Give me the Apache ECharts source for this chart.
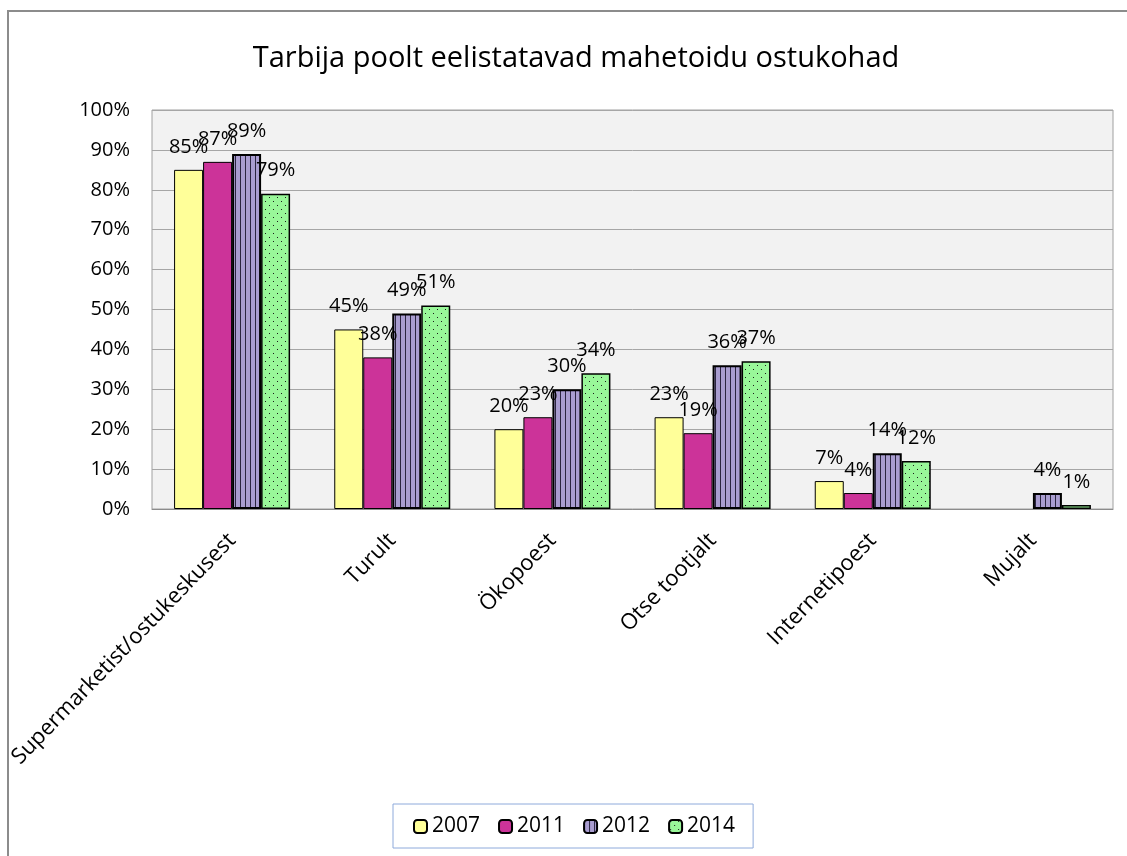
<!DOCTYPE html>
<html>
<head>
<meta charset="utf-8">
<script src="https://cdn.jsdelivr.net/npm/echarts@6/dist/echarts.min.js"></script>
<style>
  html, body { margin: 0; padding: 0; background: #fff; }
  #chartsDom { width: 1127px; height: 856px; }
</style>
</head>
<body>
<div id="chartsDom"></div>
<script>
// andmed
const categories = ["Supermarketist/ostukeskusest", "Turult", "Ökopoest", "Otse tootjalt", "Internetipoest", "Mujalt"];
const years = ["2007", "2011", "2012", "2014"];
const v2007 = [85, 45, 20, 23, 7, null];
const v2011 = [87, 38, 23, 19, 4, null];
const v2012 = [89, 49, 30, 36, 14, 4];
const v2014 = [79, 51, 34, 37, 12, 1];

const FONT = "'Open Sans', sans-serif";

// mustrid (triibud ja täpid)
function stripes() {
  const c = document.createElement("canvas");
  c.width = 5; c.height = 5;
  const ctx = c.getContext("2d");
  ctx.fillStyle = "#a99dd0";
  ctx.fillRect(0, 0, 5, 5);
  ctx.fillStyle = "#2b2540";
  ctx.fillRect(0, 0, 1, 5);
  return c;
}
function dots() {
  const c = document.createElement("canvas");
  c.width = 8; c.height = 8;
  const ctx = c.getContext("2d");
  ctx.fillStyle = "#99f799";
  ctx.fillRect(0, 0, 8, 8);
  ctx.fillStyle = "#1a1a1a";
  ctx.fillRect(1, 1, 1, 1);
  ctx.fillRect(5, 5, 1, 1);
  return c;
}

const fills = [
  "#ffff99",
  "#cc3399",
  { image: stripes(), repeat: "repeat" },
  { image: dots(), repeat: "repeat" }
];
const borders = [1, 1, 2, 1.5];
const values = [v2007, v2011, v2012, v2014];

const myChart = echarts.init(document.getElementById("chartsDom"));

let option = {
  animation: false,
  textStyle: { fontFamily: FONT },
  title: {
    text: "Tarbija poolt eelistatavad mahetoidu ostukohad",
    left: 571,
    textAlign: "center",
    top: 39,
    textStyle: { fontFamily: FONT, fontSize: 29, fontWeight: "normal", color: "#000" }
  },
  graphic: [
    {
      type: "rect",
      shape: { x: 8, y: 11, width: 1200, height: 1000 },
      style: { fill: "none", stroke: "#8c8c8c", lineWidth: 2 },
      silent: true
    }
  ],
  legend: {
    data: years,
    bottom: 8,
    left: 393,
    padding: [12, 18, 11, 20],
    itemGap: 18,
    itemWidth: 13,
    itemHeight: 13,
    borderColor: "#8eaadb",
    borderWidth: 1,
    borderRadius: 0,
    textStyle: { fontFamily: FONT, fontSize: 21, color: "#000" }
  },
  grid: {
    left: 152,
    right: 14,
    top: 110,
    bottom: 347,
    show: true,
    backgroundColor: "#f2f2f2",
    borderColor: "#a0a0a0",
    borderWidth: 1
  },
  xAxis: {
    type: "category",
    data: categories,
    axisLine: { lineStyle: { color: "#8c8c8c" } },
    axisTick: { show: false },
    axisLabel: {
      rotate: 46,
      interval: 0,
      margin: 28,
      fontFamily: FONT,
      fontSize: 22,
      color: "#000"
    }
  },
  yAxis: {
    type: "value",
    min: 0,
    max: 100,
    interval: 10,
    axisLine: { show: false },
    axisTick: { show: false },
    axisLabel: {
      formatter: "{value}%",
      margin: 22,
      fontFamily: FONT,
      fontSize: 20,
      color: "#000"
    },
    splitLine: { lineStyle: { color: "#a6a6a6", width: 1 } }
  },
  series: years.map((y, i) => ({
    name: y,
    type: "bar",
    data: values[i],
    barWidth: 29,
    barGap: "0%",
    itemStyle: { color: fills[i], borderColor: "#000", borderWidth: borders[i] },
    label: {
      show: true,
      position: "top",
      distance: 13,
      formatter: "{c}%",
      fontFamily: FONT,
      fontSize: 20,
      color: "#000"
    }
  }))
};
option && myChart.setOption(option);
</script>
</body>
</html>
